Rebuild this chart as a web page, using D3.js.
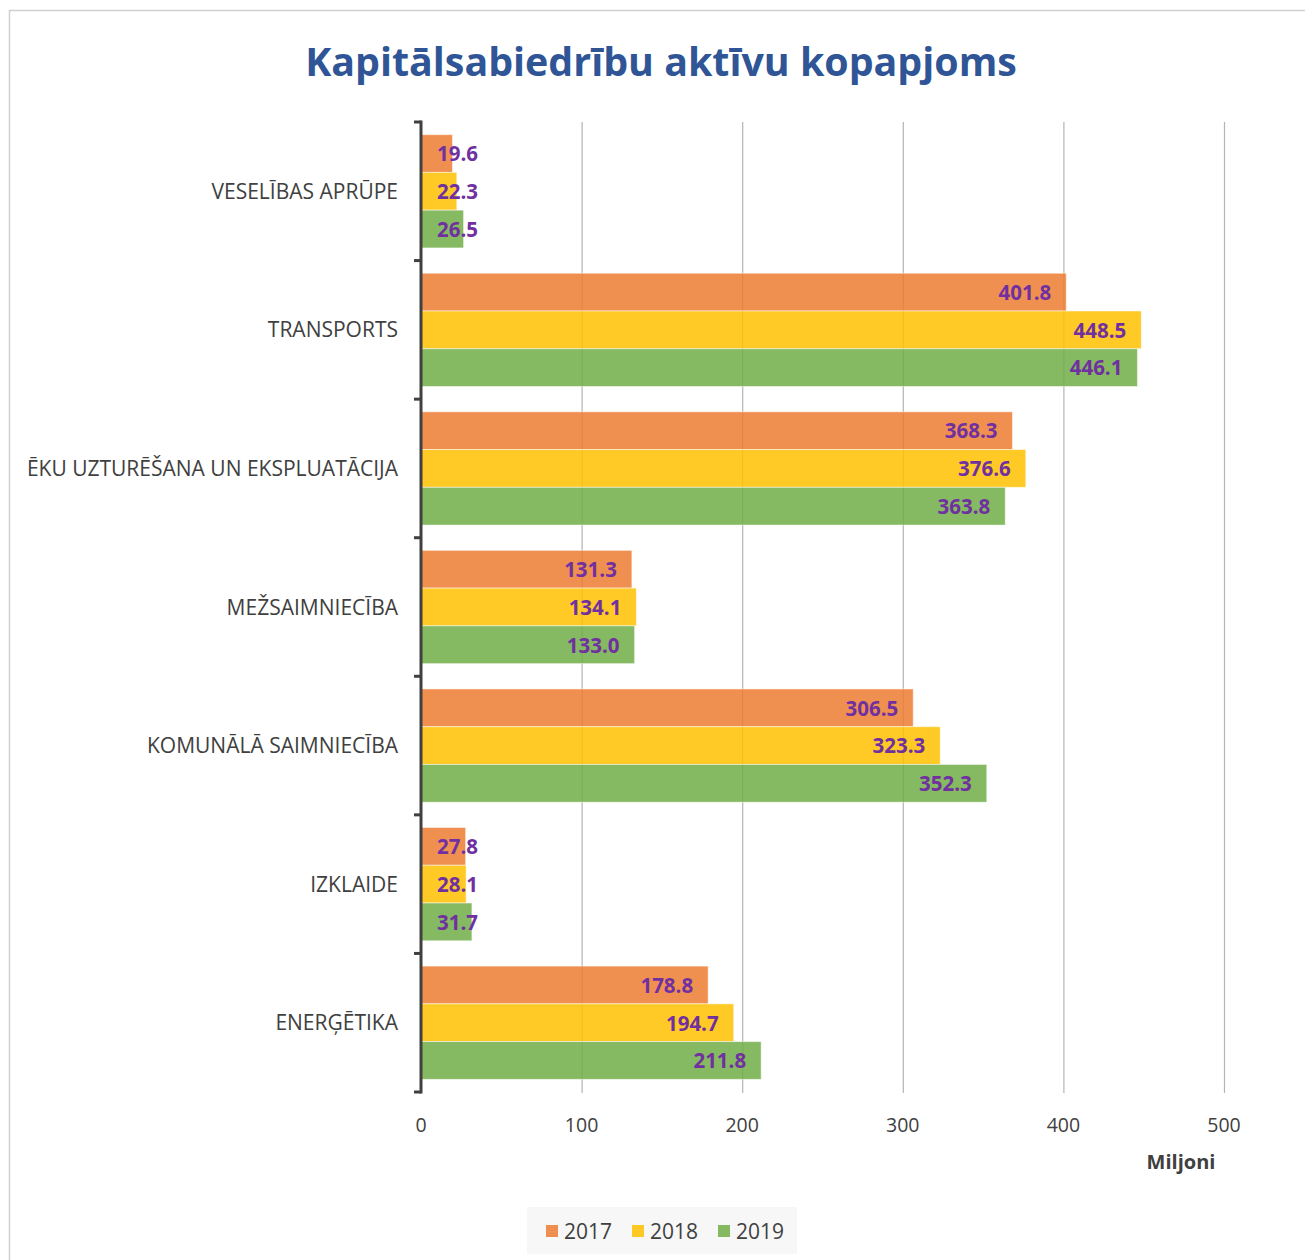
<!DOCTYPE html>
<html>
<head>
<meta charset="utf-8">
<script src="https://cdn.jsdelivr.net/npm/d3@7"></script>
<style>
  html, body { margin: 0; padding: 0; background: #fff; }
  svg { display: block; }
  text { font-family: "Open Sans", "Noto Sans", sans-serif; }
</style>
</head>
<body>
<svg id="chart" width="1305" height="1260"></svg>
<script>
const title = "Kapitālsabiedrību aktīvu kopapjoms";
const categories = ["VESELĪBAS APRŪPE", "TRANSPORTS", "ĒKU UZTURĒŠANA UN EKSPLUATĀCIJA", "MEŽSAIMNIECĪBA", "KOMUNĀLĀ SAIMNIECĪBA", "IZKLAIDE", "ENERĢĒTIKA"];
const seriesNames = ["2017", "2018", "2019"];
const values2017 = [19.6, 401.8, 368.3, 131.3, 306.5, 27.8, 178.8];
const values2018 = [22.3, 448.5, 376.6, 134.1, 323.3, 28.1, 194.7];
const values2019 = [26.5, 446.1, 363.8, 133.0, 352.3, 31.7, 211.8];
const xTicks = [0, 100, 200, 300, 400, 500];
const xAxisTitle = "Miljoni";
const seriesColors = ["#ED7D31", "#FFC000", "#70AD47"];

const seriesValues = [values2017, values2018, values2019];
const chartData = categories.map((c, i) => ({
  cat: c,
  vals: seriesNames.map((s, j) => ({ s, j, v: seriesValues[j][i] }))
}));

const svg = d3.select("#chart");
const W = 1305, H = 1260;

// outer border
svg.append("rect").attr("x", 9.5).attr("y", 10.5).attr("width", W).attr("height", H)
  .attr("fill", "#fff").attr("stroke", "#D0D0D0").attr("stroke-width", 1.5);

// title
const titleEl = svg.append("text").attr("x", 661).attr("y", 76).attr("text-anchor", "middle")
  .attr("fill", "#2F5597").attr("font-weight", "bold").attr("font-size", 40).text(title);
{
  const w = titleEl.node().getComputedTextLength();
  titleEl.attr("font-size", 40 * 712 / w);
}

const pLeft = 421, pRight = 1224, pTop = 122, pBottom = 1092;
const x = d3.scaleLinear().domain([0, 500]).range([pLeft, pRight]);
const y = d3.scaleBand().domain(categories).range([pTop, pBottom]).paddingInner(0.1826).paddingOuter(0.0913);
const ySub = d3.scaleBand().domain(seriesNames).range([0, y.bandwidth()]);

// gridlines
svg.append("g").selectAll("line").data(xTicks.filter(d => d > 0)).join("line")
  .attr("x1", d => x(d) + 0.5).attr("x2", d => x(d) + 0.5)
  .attr("y1", pTop).attr("y2", pBottom + 1)
  .attr("stroke", "#B4B4B4").attr("stroke-width", 1.2);

// bars
const g = svg.append("g").selectAll("g").data(chartData).join("g")
  .attr("transform", d => `translate(0,${y(d.cat)})`);
g.selectAll("rect").data(d => d.vals).join("rect")
  .attr("x", x(0))
  .attr("y", d => ySub(d.s))
  .attr("width", d => x(d.v) - x(0))
  .attr("height", ySub.bandwidth())
  .attr("fill", d => seriesColors[d.j]).attr("fill-opacity", 0.85)
  .attr("stroke", "#fff").attr("stroke-opacity", 0.5).attr("stroke-width", 1);

// data labels
g.selectAll("text.lbl").data(d => d.vals).join("text").attr("class", "lbl")
  .attr("y", d => ySub(d.s) + ySub.bandwidth() / 2)
  .attr("dy", "0.38em")
  .attr("font-size", 20.5).attr("font-weight", "bold").attr("fill", "#7030A0")
  .text(d => d.v.toFixed(1))
  .each(function (d) {
    const w = this.getComputedTextLength();
    const xr = Math.max(x(d.v) - 15, x(0) + 16 + w);
    d3.select(this).attr("x", xr).attr("text-anchor", "end");
  });

// y axis
const yBounds = d3.range(categories.length + 1).map(i => pTop + i * (pBottom - pTop) / categories.length);
svg.append("g").selectAll("line").data(yBounds).join("line")
  .attr("x1", pLeft - 7).attr("x2", pLeft).attr("y1", d => d).attr("y2", d => d)
  .attr("stroke", "#404040").attr("stroke-width", 3);
svg.append("line").attr("x1", pLeft).attr("x2", pLeft).attr("y1", pTop - 1.5).attr("y2", pBottom + 1.5)
  .attr("stroke", "#404040").attr("stroke-width", 3);

// category labels
svg.append("g").selectAll("text").data(categories).join("text")
  .attr("x", 398).attr("y", d => y(d) + y.bandwidth() / 2).attr("dy", "0.36em")
  .attr("text-anchor", "end").attr("font-size", 21).attr("fill", "#404040").text(d => d);

// x tick labels
svg.append("g").selectAll("text").data(xTicks).join("text")
  .attr("x", d => x(d)).attr("y", 1132).attr("text-anchor", "middle")
  .attr("font-size", 19.5).attr("fill", "#404040").text(d => d);

svg.append("text").attr("x", 1181).attr("y", 1169).attr("text-anchor", "middle")
  .attr("font-size", 20).attr("font-weight", "bold").attr("fill", "#404040").text(xAxisTitle);

// legend
svg.append("rect").attr("x", 527).attr("y", 1207).attr("width", 270).attr("height", 47).attr("fill", "#F7F7F7");
const legX = [546, 632, 718];
const lg = svg.append("g").selectAll("g").data(seriesNames).join("g")
  .attr("transform", (d, i) => `translate(${legX[i]},1231)`);
lg.append("rect").attr("x", 0).attr("y", -6).attr("width", 12).attr("height", 12)
  .attr("fill", (d, i) => seriesColors[i]).attr("fill-opacity", 0.85);
lg.append("text").attr("x", 18).attr("dy", "0.36em").attr("font-size", 21).attr("fill", "#404040").text(d => d);
</script>
</body>
</html>
